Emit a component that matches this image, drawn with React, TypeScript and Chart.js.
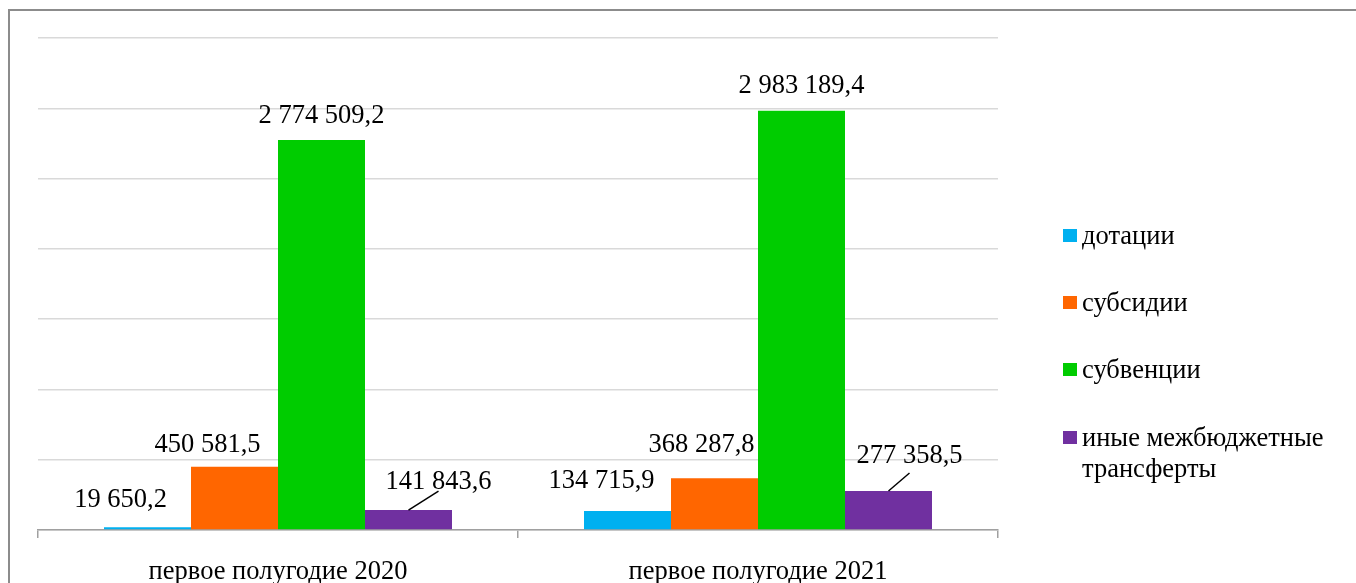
import React, { useEffect, useRef } from "react";
import { Chart, registerables } from "chart.js";

Chart.register(...registerables);

const categories = ["первое полугодие 2020", "первое полугодие 2021"];
const seriesNames = ["дотации", "субсидии", "субвенции", ["иные межбюджетные", "трансферты"]];
const dotacii = [19650.2, 134715.9];
const subsidii = [450581.5, 368287.8];
const subvencii = [2774509.2, 2983189.4];
const inye = [141843.6, 277358.5];
const seriesColors = ["#00B0F0", "#FF6600", "#00CC00", "#7030A0"];
const yMax = 3500000;
const yStep = 500000;

// label placement offsets (layout only): [dx, dy] relative to bar top centre, per dataset per category
const labelOffsets = [
  [[-27, -20], [-26, -23]],
  [[-27, -15], [-13, -26]],
  [[0, -17], [0, -18]],
  [[30, -21], [21, -28]],
];
// leader lines (dataset index 3): end point offsets relative to bar top centre
const leaderEnds = [[30, -19], [21, -18]];

const FONT = "'Liberation Serif', 'Times New Roman', serif";
const FSIZE = 26.5;

function fmt(v: number): string {
  const [intPart, frac] = v.toFixed(1).split(".");
  const withSpaces = intPart.replace(/\B(?=(\d{3})+(?!\d))/g, " ");
  return withSpaces + "," + frac;
}

const framePlugin = {
  id: "frame",
  beforeDraw(chart: any) {
    const ctx = chart.ctx;
    ctx.save();
    ctx.fillStyle = "#ffffff";
    ctx.fillRect(0, 0, chart.width, chart.height);
    ctx.strokeStyle = "#8c8c8c";
    ctx.lineWidth = 2;
    ctx.strokeRect(9, 10, chart.width + 20, chart.height + 20);
    ctx.restore();
  },
};

const labelsPlugin = {
  id: "valueLabels",
  afterDatasetsDraw(chart: any) {
    const ctx = chart.ctx;
    ctx.save();
    ctx.font = `${FSIZE}px ${FONT}`;
    ctx.fillStyle = "#000000";
    ctx.textAlign = "center";
    ctx.textBaseline = "alphabetic";
    chart.data.datasets.forEach((ds: any, i: number) => {
      const meta = chart.getDatasetMeta(i);
      meta.data.forEach((bar: any, j: number) => {
        const [dx, dy] = labelOffsets[i][j];
        ctx.fillText(fmt(ds.data[j]), bar.x + dx, bar.y + dy);
        if (i === 3) {
          const [ex, ey] = leaderEnds[j];
          ctx.beginPath();
          ctx.strokeStyle = "#000000";
          ctx.lineWidth = 1.5;
          ctx.moveTo(bar.x, bar.y);
          ctx.lineTo(bar.x + ex, bar.y + ey);
          ctx.stroke();
        }
      });
    });
    ctx.restore();
  },
};

const legendPlugin = {
  id: "sideLegend",
  afterDraw(chart: any) {
    const ctx = chart.ctx;
    const x0 = chart.chartArea.right + 65;
    const baselines = [244, 311, 378, 446];
    ctx.save();
    ctx.font = `${FSIZE}px ${FONT}`;
    ctx.textAlign = "left";
    ctx.textBaseline = "alphabetic";
    chart.data.datasets.forEach((ds: any, i: number) => {
      const b = baselines[i];
      ctx.fillStyle = ds.backgroundColor;
      ctx.fillRect(x0, b - 15, 14, 13);
      ctx.fillStyle = "#000000";
      const lines = Array.isArray(ds.label) ? ds.label : [ds.label];
      lines.forEach((t: string, k: number) => {
        ctx.fillText(t, x0 + 19, b + k * 31);
      });
    });
    ctx.restore();
  },
};

export default function App() {
  const ref = useRef<HTMLCanvasElement | null>(null);
  useEffect(() => {
    if (!ref.current) return;
    const values = [dotacii, subsidii, subvencii, inye];
    const chart = new Chart(ref.current, {
      type: "bar",
      data: {
        labels: categories,
        datasets: values.map((d, i) => ({
          label: seriesNames[i] as any,
          data: d,
          backgroundColor: seriesColors[i],
          borderWidth: 0,
          categoryPercentage: 0.725,
          barPercentage: 1,
        })),
      },
      options: {
        responsive: false,
        animation: false,
        layout: { padding: { left: 38, top: 38, right: 358, bottom: 0 } },
        plugins: {
          legend: { display: false },
          tooltip: { enabled: false },
        },
        scales: {
          x: {
            grid: {
              offset: true,
              drawOnChartArea: false,
              drawTicks: true,
              tickLength: 8,
              color: "#a0a0a0",
              lineWidth: 1.5,
            },
            border: { display: true, color: "#a0a0a0", width: 1.5 },
            ticks: {
              color: "#000000",
              padding: 21,
              font: { family: FONT, size: FSIZE, lineHeight: 1.0 },
              maxRotation: 0,
            },
            afterFit: (s: any) => {
              s.height = 53;
            },
          },
          y: {
            min: 0,
            max: yMax,
            ticks: { display: false, stepSize: yStep },
            grid: { color: "#d9d9d9", lineWidth: 1.5, drawTicks: false },
            border: { display: false },
            afterFit: (s: any) => {
              s.width = 0;
            },
          },
        },
      },
      plugins: [framePlugin, labelsPlugin, legendPlugin],
    });
    return () => chart.destroy();
  }, []);
  return (
    <div style={{ position: "fixed", left: 0, top: 0, width: 1356, height: 583, background: "#fff" }}>
      <canvas ref={ref} width={1356} height={583} style={{ display: "block" }} />
    </div>
  );
}
